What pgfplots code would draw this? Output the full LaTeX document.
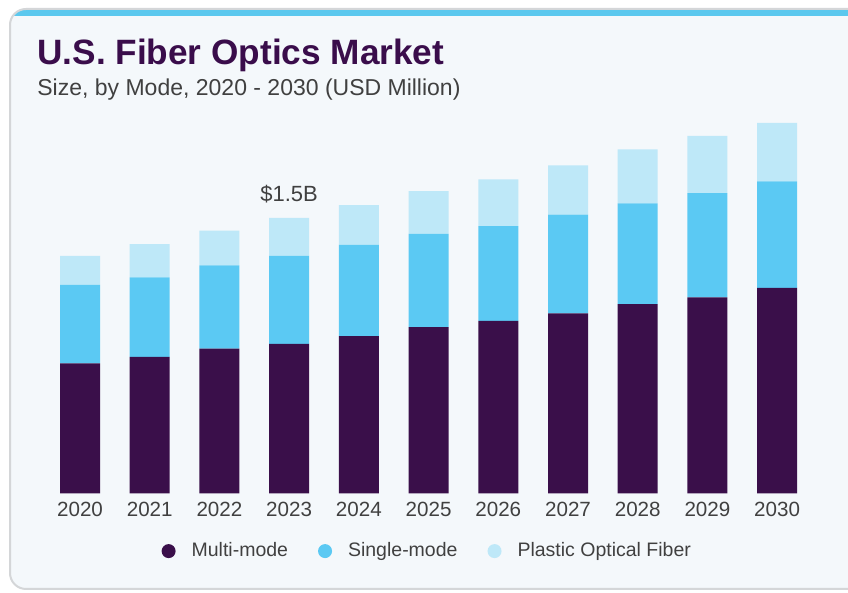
\documentclass[border=0pt]{standalone}
\usepackage{pgfplots}
\pgfplotsset{compat=1.18}
\usepackage{fontspec}
\setmainfont{Liberation Sans}
\definecolor{multi}{HTML}{3A0F4A}
\definecolor{single}{HTML}{5BC9F3}
\definecolor{plastic}{HTML}{BEE8F8}
\definecolor{cardbg}{HTML}{F4F8FB}
\definecolor{band}{HTML}{5BC8EE}
\definecolor{cardborder}{HTML}{D4D6D8}
\definecolor{titlecol}{HTML}{3A0D4B}
\definecolor{txt}{HTML}{404040}
\begin{document}
\begin{tikzpicture}[x=0.5pt,y=0.5pt]
\useasboundingbox[fill=white] (0,0) rectangle (848,593);
\begin{scope}
\clip[rounded corners=8] (10,4) rectangle (880,584);
\fill[cardbg] (0,0) rectangle (900,600);
\fill[band] (0,576.5) rectangle (900,600);
\end{scope}
\draw[cardborder, line width=1pt, rounded corners=8] (880,584) -- (10,584) -- (10,4) -- (880,4);
\node[anchor=base west, inner sep=0pt, text=titlecol, font=\fontsize{17.6pt}{20pt}\selectfont\bfseries] at (37,528) {U.S. Fiber Optics Market};
\node[anchor=base west, inner sep=0pt, text=txt, font=\fontsize{11.5pt}{13pt}\selectfont] at (37,497) {Size, by Mode, 2020 - 2030 (USD Million)};
\begin{axis}[
  at={(22.575pt,49.85pt)}, anchor=south west,
  scale only axis, width=383.43pt, height=192.7pt,
  xmin=-0.5, xmax=10.5, ymin=0, ymax=2100,
  enlargelimits=false, clip=false,
  ybar stacked, bar width=20pt,
  axis x line*=bottom, axis y line=none,
  x axis line style={draw=none},
  major tick length=0pt,
  xtick={0,1,2,3,4,5,6,7,8,9,10},
  xticklabels={2020,2021,2022,2023,2024,2025,2026,2027,2028,2029,2030},
  xticklabel style={font=\fontsize{10.3pt}{12pt}\selectfont, text=txt, inner sep=0pt, yshift=-4.2pt},
  ytick=\empty,
  legend columns=3,
  legend style={at={(0.497,-0.150)}, anchor=center, draw=none, fill=none,
    font=\fontsize{9.75pt}{12pt}\selectfont, text=txt,
    nodes={inner sep=0pt},
    /tikz/every odd column/.append style={column sep=8pt},
    /tikz/every even column/.append style={column sep=15pt}},
  dot/.style={legend image code/.code={\fill[##1] (0pt,0pt) circle (3.5pt);}},
]
\addplot[fill=multi, draw=none, dot] coordinates {(0,708) (1,744) (2,788) (3,814) (4,857) (5,905) (6,940) (7,981) (8,1031) (9,1068) (10,1119)};
\addplot[fill=single, draw=none, dot] coordinates {(0,427) (1,433) (2,454) (3,480) (4,497) (5,508) (6,516) (7,537) (8,549) (9,567) (10,581)};
\addplot[fill=plastic, draw=none, dot] coordinates {(0,158) (1,181) (2,189) (3,207) (4,216) (5,233) (6,254) (7,269) (8,294) (9,312) (10,319)};
\legend{Multi-mode, Single-mode, Plastic Optical Fiber}
\node[anchor=base, inner sep=0pt, text=txt, font=\fontsize{11pt}{13pt}\selectfont, yshift=8.25pt] at (axis cs:3,1501) {\$1.5B};
\end{axis}
\end{tikzpicture}
\end{document}
